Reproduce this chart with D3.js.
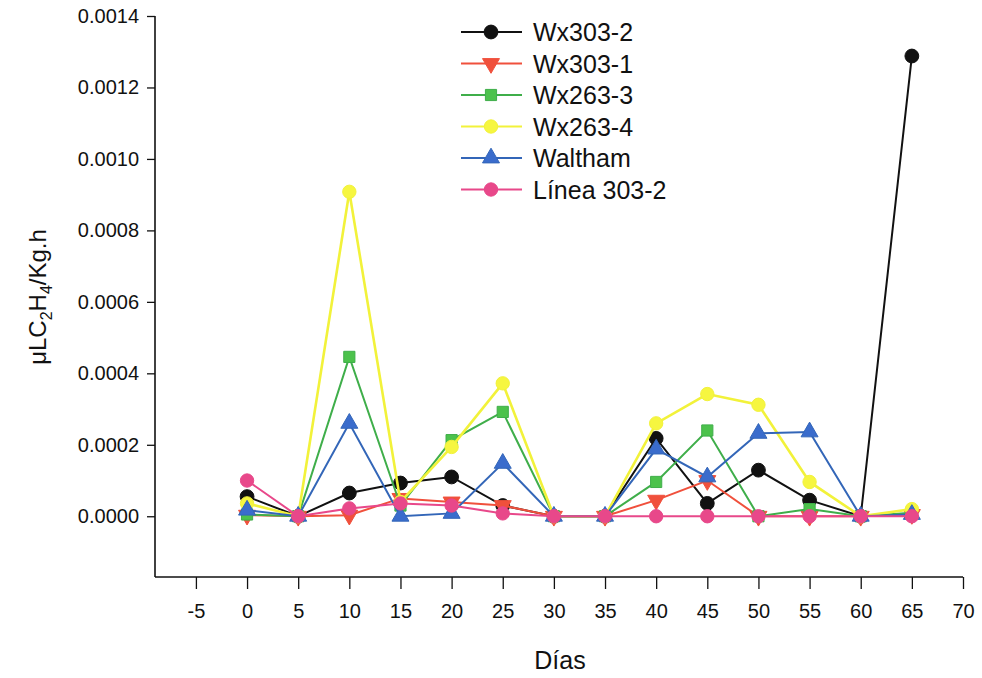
<!DOCTYPE html>
<html><head><meta charset="utf-8">
<script src="https://cdn.jsdelivr.net/npm/d3@7"></script>
<style>body{margin:0;background:#fff}svg{display:block}text{font-family:"Liberation Sans",Arial,sans-serif}</style>
</head><body><svg id="c" width="982" height="678"></svg>
<script>
const days = [0,5,10,15,20,25,30,35,40,45,50,55,60,65];
const seriesNames = ["Wx303-2","Wx303-1","Wx263-3","Wx263-4","Waltham","Línea 303-2"];
const wx3032 = [0.000055,0,0.000065,0.000093,0.00011,0.00003,0,0,0.000218,0.000036,0.000129,0.000045,0,0.001288];
const wx3031 = [0.000003,0,0.000003,0.00005,0.00004,0.00003,0,0,0.000045,0.0001,0,0,0,0.000005];
const wx2633 = [0.000005,0,0.000446,0.00003,0.000213,0.000292,0,0,0.000096,0.00024,0,0.00002,0,0.00001];
const wx2634 = [0.000036,0,0.000908,0.00004,0.000194,0.000372,0,0,0.00026,0.000342,0.000312,0.000096,0,0.00002];
const waltham = [0.000017,0,0.00026,0,0.000008,0.000148,0,0,0.000188,0.00011,0.000232,0.000236,0,0.000005];
const linea3032 = [0.0001,0,0.000022,0.000036,0.00003,0.000008,0,0,0,0,0,0,0,0];
const xTicks = [-5,0,5,10,15,20,25,30,35,40,45,50,55,60,65,70];
const yTicks = [0,0.0002,0.0004,0.0006,0.0008,0.0010,0.0012,0.0014];

const allValues = [wx3032,wx3031,wx2633,wx2634,waltham,linea3032];
const colors = ["#111111","#f0503c","#3fae4a","#f2f23a","#3366b8","#e8488a"];
const fills  = ["#111111","#f0503c","#4cc24c","#f6f640","#3a6ccc","#e8488a"];
const shapes = [d3.symbolCircle,d3.symbolTriangle,d3.symbolSquare,d3.symbolCircle,d3.symbolTriangle,d3.symbolCircle];
const rot = [0,180,0,0,0,0];
const sizes = [150,125,125,140,125,140];

const svg = d3.select("#c");
const x = d3.scaleLinear().domain([-9,70]).range([155,963]);
const y = d3.scaleLinear().domain([-0.00017,0.0014]).range([577,16]);

// axes
const gx = svg.append("g").attr("transform","translate(0,577)")
  .call(d3.axisBottom(x).tickValues(xTicks).tickSize(12).tickSizeOuter(0).tickPadding(15).tickFormat(d=>String(d)));
const gy = svg.append("g").attr("transform","translate(155,0)")
  .call(d3.axisLeft(y).tickValues(yTicks).tickSize(8).tickSizeOuter(0).tickPadding(8).tickFormat(d3.format(".4f")));
[gx,gy].forEach(g=>{
  g.select(".domain").attr("stroke","#111").attr("stroke-width",1.6);
  g.selectAll(".tick line").attr("stroke","#111").attr("stroke-width",1.3);
  g.selectAll(".tick text").attr("fill","#111").style("font-size","20px");
});
gx.select(".domain").attr("d","M155,0H963");
gy.select(".domain").attr("d","M0,16V577");

// axis titles
svg.append("text").attr("x",560).attr("y",669).attr("text-anchor","middle")
  .style("font-size","25px").attr("fill","#111").text("Días");
const yt = svg.append("text").attr("transform","translate(46,297) rotate(-90)")
  .attr("text-anchor","middle").style("font-size","24px").attr("fill","#111");
yt.append("tspan").text("μLC");
yt.append("tspan").attr("dy",6).style("font-size","16px").text("2");
yt.append("tspan").attr("dy",-6).text("H");
yt.append("tspan").attr("dy",6).style("font-size","16px").text("4");
yt.append("tspan").attr("dy",-6).text("/Kg.h");

const line = d3.line().x((d,i)=>x(days[i])).y(d=>y(d));
allValues.forEach((vals,s)=>{
  const g = svg.append("g");
  g.append("path").datum(vals).attr("d",line).attr("fill","none")
    .attr("stroke",colors[s]).attr("stroke-width", s===3?2.6:2);
  g.selectAll("path.m").data(vals).join("path").attr("class","m")
    .attr("d",d3.symbol().type(shapes[s]).size(sizes[s]))
    .attr("transform",(d,i)=>`translate(${x(days[i])},${y(d)}) rotate(${rot[s]})`)
    .attr("fill",fills[s]).attr("stroke",colors[s]).attr("stroke-width",1);
});

// legend
const lg = svg.append("g");
seriesNames.forEach((n,s)=>{
  const yy = 32 + s*31.5;
  lg.append("line").attr("x1",461).attr("x2",522).attr("y1",yy).attr("y2",yy)
    .attr("stroke",colors[s]).attr("stroke-width",2);
  lg.append("path").attr("d",d3.symbol().type(shapes[s]).size(sizes[s]))
    .attr("transform",`translate(491,${yy}) rotate(${rot[s]})`)
    .attr("fill",fills[s]).attr("stroke",colors[s]);
  lg.append("text").attr("x",533).attr("y",yy+9).style("font-size","25px").attr("fill","#111").text(n);
});
</script></body></html>
